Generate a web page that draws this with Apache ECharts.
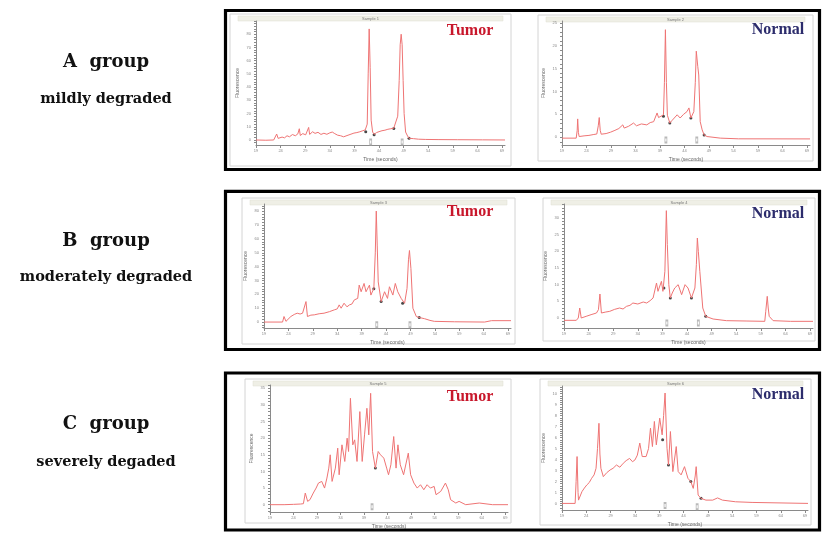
<!DOCTYPE html>
<html>
<head>
<meta charset="utf-8">
<script src="https://cdn.jsdelivr.net/npm/echarts@6.0.0/dist/echarts.min.js"></script>
<style>
  html, body { margin: 0; padding: 0; background: #fff; }
  #chart { width: 822px; height: 533px; }
</style>
</head>
<body>
<div id="chart"></div>
<script>
// time axis (seconds) shared by all six traces
const timeTicks = [19, 24, 29, 34, 39, 44, 49, 54, 59, 64, 69]

// fluorescence tick labels per panel
const aTumorYTicks = [0, 10, 20, 30, 40, 50, 60, 70, 80]
const aNormalYTicks = [0, 5, 10, 15, 20, 25]
const bTumorYTicks = [0, 10, 20, 30, 40, 50, 60, 70, 80]
const bNormalYTicks = [0, 5, 10, 15, 20, 25, 30]
const cTumorYTicks = [0, 5, 10, 15, 20, 25, 30, 35]
const cNormalYTicks = [0, 1, 2, 3, 4, 5, 6, 7, 8, 9, 10]

// traces [time, fluorescence]
const aTumor = [
    [19, 0], [21, -0.2], [22.6, 0], [23.0, 0.3], [23.2, 4.5], [23.5, 1.2], [23.9, 0.8], [24.3, 2.2], [24.8, 1.6],
    [25.3, 3.2], [25.8, 2.4], [26.4, 4.1], [27.0, 3.2], [27.5, 4.6], [27.8, 8.5], [28.0, 3.4], [28.5, 4.8], [29.1, 3.9],
    [29.5, 5], [29.7, 9.5], [29.9, 4.2], [30.5, 6.2], [31.0, 5], [31.6, 5.8], [32.2, 4.2], [32.8, 5.1], [33.4, 4.3],
    [34.0, 5.4], [34.5, 6], [35.0, 4.8], [35.6, 3.6], [36.2, 3.2], [36.8, 2.4], [37.2, 2], [37.7, 3.6], [38.3, 4.4],
    [38.9, 5.2], [39.5, 5.6], [40.1, 6.2], [40.7, 7], [41.2, 7.6], [41.6, 12], [41.8, 50], [42.0, 84], [42.2, 55],
    [42.4, 15], [42.7, 6], [43.0, 4.3], [43.5, 5.6], [44.0, 6.3], [44.6, 7], [45.2, 7.4], [45.8, 8.1], [46.4, 8.5],
    [47.0, 9], [47.4, 10.5], [47.8, 18], [48.1, 45], [48.3, 72], [48.5, 80], [48.7, 72], [48.9, 45], [49.1, 20],
    [49.4, 6], [49.8, 3], [50.1, 1.3], [51, 1], [52, 0.6], [53.5, 0.4], [56, 0.3], [60, 0.2], [65, 0.1], [69.6, 0]
]
const aNormal = [
    [19, -0.2], [21.9, -0.2], [22.1, 1.5], [22.2, 4.0], [22.35, 1], [22.5, 0.15], [23.5, 0.3], [24.5, 0.4], [25.5, 0.6],
    [26.1, 0.7], [26.4, 2.5], [26.6, 4.3], [26.8, 1.5], [27.0, 0.66], [28, 0.8], [28.9, 1.1], [29.8, 1.5], [30.6, 1.9],
    [31.4, 2.7], [31.7, 2.0], [32.6, 2.4], [33.6, 3.1], [34.2, 2.5], [35.2, 2.9], [36.3, 2.7], [37.0, 3.2], [37.7, 3.4],
    [38.4, 5.3], [38.7, 4.3], [39.1, 4.2], [39.7, 4.9], [39.9, 12], [40.1, 23.5], [40.3, 12], [40.5, 4.8], [41.0, 3.1],
    [41.4, 3.6], [41.8, 3.8], [42.5, 4.9], [43.1, 4.2], [43.8, 5.0], [44.5, 5.6], [44.9, 6.4], [45.3, 4.2], [45.9, 5.6],
    [46.2, 12], [46.4, 18.8], [46.7, 15.5], [46.9, 13.6], [47.2, 3.4], [47.6, 1.6], [48.0, 0.5], [48.6, 0.15],
    [51.3, -0.2], [55, -0.35], [69.6, -0.37]
]
const bTumor = [
    [19, 0], [22.8, 0], [23.1, 4], [23.5, 0.5], [24.5, 4], [25.2, 5.5], [25.8, 6.4], [26.4, 5.8], [26.9, 6.4],
    [27.2, 7.6], [27.6, 14.8], [27.9, 4], [28.6, 5], [29.3, 5.2], [30.3, 6], [31.3, 6.4], [32.4, 7.5], [33.4, 8.8],
    [34.0, 9.5], [34.4, 12.4], [34.8, 10], [35.4, 13.6], [36.0, 11], [36.5, 12.4], [37.0, 13], [37.5, 16], [38.2, 17.1],
    [38.5, 26.7], [38.9, 21.9], [39.5, 27.9], [39.9, 21.9], [40.6, 26.7], [40.9, 19.5], [41.5, 24.3], [41.8, 50],
    [42.0, 80.2], [42.2, 55], [42.4, 29], [43.0, 14.8], [43.7, 21.9], [44.3, 17.1], [44.7, 25.5], [45.4, 19.5],
    [45.9, 27.9], [46.4, 21.9], [47.1, 17.1], [47.8, 13.6], [48.3, 24.3], [48.6, 45], [48.8, 51.7], [49.1, 38.6],
    [49.5, 10], [50.2, 4], [50.8, 3.3], [51.9, 2.4], [53.0, 1.2], [53.9, 0.5], [58, 0.2], [64.2, 0], [65.6, 1], [69.6, 1]
]
const bNormal = [
    [19, -0.7], [21.5, -0.7], [21.9, 0], [22.2, 3], [22.5, 0], [23.5, 0.5], [24.5, 1], [25.6, 1.5], [26.0, 2.5],
    [26.3, 7.2], [26.6, 1.5], [27.5, 1.8], [28.3, 2], [29.3, 2.6], [30.3, 3], [31.0, 2.7], [31.7, 3.5], [32.4, 3.8],
    [33.0, 4.5], [33.4, 5], [34.0, 4.2], [34.4, 4], [35.1, 4.8], [35.8, 4.5], [36.5, 5.2], [37.1, 6], [37.8, 10.5],
    [38.1, 8], [38.8, 11], [39.1, 8], [39.5, 14], [39.8, 32.2], [40.0, 22], [40.3, 10], [40.6, 6], [41.0, 7.5],
    [41.5, 9], [42.2, 10], [42.9, 7], [43.6, 10], [44.2, 9], [44.9, 6], [45.6, 9], [45.9, 16], [46.1, 24], [46.3, 20],
    [46.6, 14], [47.2, 3], [47.8, 0.5], [49.3, -0.3], [52.0, -0.8], [56, -0.9], [59.8, -1], [60.0, 2], [60.3, 6.5],
    [60.5, 3], [60.7, 0.5], [61.5, -0.8], [65, -1], [69.6, -1]
]
const cTumor = [
    [19, 0], [22, 0], [24, 0.1], [25.5, 0.2], [26.1, 0.3], [26.5, 3.5], [27.0, 1], [27.5, 1.5], [28.2, 3.5], [28.8, 5],
    [29.3, 6.5], [30.0, 7], [30.6, 5], [31.1, 8], [31.5, 11], [31.8, 15], [32.2, 7], [32.9, 11], [33.4, 17], [33.7, 9],
    [34.3, 18], [34.9, 13], [35.4, 20], [35.7, 16], [36.1, 32], [36.6, 18], [37.0, 19.5], [37.5, 13], [38.1, 28],
    [38.6, 13], [39.1, 21], [39.6, 29], [40.0, 21], [40.4, 33.5], [40.8, 16], [41.4, 11], [42.0, 16], [42.5, 15],
    [43.2, 14], [43.8, 11], [44.2, 9], [44.7, 12], [45.3, 20.5], [45.8, 11], [46.2, 18], [46.7, 12], [47.4, 9],
    [48.4, 15.5], [48.9, 9], [49.6, 6.5], [50.3, 5], [51.0, 6], [51.7, 4.5], [52.4, 6], [53.1, 5], [53.9, 5.5],
    [54.3, 3], [55.3, 4], [56.3, 6.5], [56.9, 4.5], [57.4, 1.5], [58.5, 0.5], [59.2, 1], [60.6, 0], [63.5, 0.5],
    [66.3, 0], [69.6, 0]
]
const cNormal = [
    [19, 0], [21.7, 0], [21.9, 2], [22.1, 4.27], [22.3, 1], [22.4, 0.3], [23.1, 1.07], [23.6, 1.4], [24.1, 1.68],
    [24.6, 1.9], [25.1, 2.29], [25.6, 2.6], [26.0, 3.2], [26.3, 5], [26.6, 7.3], [26.8, 4.5], [27.0, 3.2], [27.5, 2.44],
    [28.2, 2.8], [28.9, 3.05], [29.5, 3.2], [30.2, 3.5], [30.9, 3.3], [31.6, 3.66], [32.2, 3.9], [32.9, 4.1], [33.5, 3.8],
    [34.0, 3.96], [34.5, 4.4], [35.0, 5.5], [35.5, 4.27], [36.3, 4.27], [36.8, 5], [37.2, 6.86], [37.6, 5.18],
    [38.0, 7.47], [38.4, 5.34], [39.1, 7.77], [39.6, 6.25], [39.9, 8], [40.2, 10.06], [40.6, 5.03], [40.9, 3.5],
    [41.3, 6.55], [41.8, 2.9], [42.5, 5.18], [42.9, 2.9], [43.5, 2.6], [44.2, 3.35], [44.9, 2.29], [45.5, 1.98],
    [46.0, 1.37], [46.4, 2.5], [46.6, 3.35], [47.0, 0.76], [47.6, 0.46], [48.6, 0.3], [50.0, 0.3], [51.0, 0.5],
    [51.3, 0.61], [52.0, 0.3], [54.7, 0.15], [58.1, 0.09], [69.6, 0]
]

// black fragment markers on each trace
const aTumorMarks = [[41.3, 6.3], [43.0, 4.0], [47.0, 8.6], [50.1, 1.3]]
const aNormalMarks = [[39.7, 4.6], [41.0, 3.1], [45.3, 4.2], [48.0, 0.5]]
const bTumorMarks = [[41.5, 24], [43.0, 14.8], [47.4, 13.6], [50.8, 3.3]]
const bNormalMarks = [[39.3, 9], [40.6, 6], [44.9, 6], [47.8, 0.5]]
const cTumorMarks = [[41.4, 11]]
const cNormalMarks = [[39.7, 5.8], [40.9, 3.5], [45.5, 2], [47.6, 0.46]]

// grey peak flags under the baseline
const aTumorPeaks = [[42.3, -1.5], [48.7, -1.5]]
const aNormalPeaks = [[40.2, -0.6], [46.5, -0.6]]
const bTumorPeaks = [[42.1, -2], [48.9, -2]]
const bNormalPeaks = [[39.9, -1.5], [46.3, -1.5]]
const cTumorPeaks = [[40.7, -0.6]]
const cNormalPeaks = [[40.2, -0.2], [46.8, -0.3]]

const panels = [
    { data: aTumor, marks: aTumorMarks, peaks: aTumorPeaks, yTicks: aTumorYTicks, yMin: -3.8, yMax: 90,
      grid: { left: 256, top: 21, width: 249, height: 124 }, frame: [230, 14, 281, 152], title: 'Sample 1',
      label: 'Tumor', labelPos: [470, 31] },
    { data: aNormal, marks: aNormalMarks, peaks: aNormalPeaks, yTicks: aNormalYTicks, yMin: -1.7, yMax: 25.4,
      grid: { left: 562, top: 21, width: 248, height: 124 }, frame: [538, 15, 275, 146], title: 'Sample 2',
      label: 'Normal', labelPos: [778, 30] },
    { data: bTumor, marks: bTumorMarks, peaks: bTumorPeaks, yTicks: bTumorYTicks, yMin: -4.3, yMax: 85.3,
      grid: { left: 264, top: 204, width: 247, height: 124 }, frame: [242, 198, 273, 146], title: 'Sample 3',
      label: 'Tumor', labelPos: [470, 212] },
    { data: bNormal, marks: bNormalMarks, peaks: bNormalPeaks, yTicks: bNormalYTicks, yMin: -3, yMax: 34.2,
      grid: { left: 564, top: 204, width: 249, height: 124 }, frame: [543, 198, 272, 143], title: 'Sample 4',
      label: 'Normal', labelPos: [778, 214] },
    { data: cTumor, marks: cTumorMarks, peaks: cTumorPeaks, yTicks: cTumorYTicks, yMin: -2.2, yMax: 36,
      grid: { left: 270, top: 385, width: 238, height: 127 }, frame: [245, 379, 266, 144], title: 'Sample 5',
      label: 'Tumor', labelPos: [470, 397] },
    { data: cNormal, marks: cNormalMarks, peaks: cNormalPeaks, yTicks: cNormalYTicks, yMin: -0.6, yMax: 10.7,
      grid: { left: 562, top: 386, width: 246, height: 124 }, frame: [540, 379, 271, 146], title: 'Sample 6',
      label: 'Normal', labelPos: [778, 395] }
]

const labelColors = { Tumor: '#c8172b', Normal: '#2c2c6c' }
const axisGrey = '#8a8a8a'

function minorTicks(ticks, lo, hi) {
    const step = (ticks[1] - ticks[0]) / 5
    const out = []
    for (let v = ticks[0]; v <= hi + 1e-9; v += step) {
        out.push(+v.toFixed(3))
    }
    for (let v = ticks[0] - step; v >= lo; v -= step) {
        out.push(+v.toFixed(3))
    }
    return out
}

const grids = []
const xAxes = []
const yAxes = []
const series = []
const graphics = []

panels.forEach((p, i) => {
    grids.push(Object.assign({ containLabel: false }, p.grid))
    xAxes.push({
        type: 'value', gridIndex: i, min: 19, max: 69.6,
        name: 'Time (seconds)', nameLocation: 'middle', nameGap: 12,
        nameTextStyle: { fontSize: 5, color: '#666' },
        axisLine: { onZero: false, lineStyle: { color: axisGrey, width: 1 } },
        axisTick: { length: 3, customValues: timeTicks, lineStyle: { color: axisGrey } },
        axisLabel: { fontSize: 4, color: '#888', margin: 4, customValues: timeTicks },
        splitLine: { show: false }
    })
    yAxes.push({
        type: 'value', gridIndex: i, min: p.yMin, max: p.yMax,
        name: 'Fluorescence', nameLocation: 'middle', nameGap: 16,
        nameTextStyle: { fontSize: 5, color: '#666' },
        axisLine: { show: true, onZero: false, lineStyle: { color: axisGrey, width: 1 } },
        axisTick: { length: 2, customValues: minorTicks(p.yTicks, p.yMin, p.yMax), lineStyle: { color: axisGrey } },
        axisLabel: { fontSize: 4, color: '#888', margin: 5, customValues: p.yTicks },
        splitLine: { show: false }
    })
    series.push({
        type: 'line', xAxisIndex: i, yAxisIndex: i, data: p.data,
        showSymbol: false, silent: true, animation: false,
        lineStyle: { color: '#ef7474', width: 1 }
    })
    series.push({
        type: 'scatter', xAxisIndex: i, yAxisIndex: i, data: p.marks,
        symbolSize: 3, silent: true, animation: false,
        itemStyle: { color: '#1a1a1a' }
    })
    series.push({
        type: 'scatter', xAxisIndex: i, yAxisIndex: i, data: p.peaks,
        symbol: 'rect', symbolSize: [2, 5], silent: true, animation: false,
        itemStyle: { color: '#fff', borderColor: '#a8a8a8', borderWidth: 0.8 }
    })

    const [fx, fy, fw, fh] = p.frame
    graphics.push({
        type: 'rect', shape: { x: fx, y: fy, width: fw, height: fh }, z: -5,
        style: { fill: '#fff', stroke: '#d4d4d4', lineWidth: 1 }
    })
    graphics.push({
        type: 'rect', shape: { x: fx + 8, y: fy + 2, width: fw - 16, height: 5 }, z: -4,
        style: { fill: '#efefe6', stroke: '#dcdcd0', lineWidth: 0.5 }
    })
    graphics.push({
        type: 'text', x: fx + fw / 2, y: fy + 4.5, z: 5,
        style: { text: p.title, fontSize: 4, fill: '#777', align: 'center', verticalAlign: 'middle' }
    })
    graphics.push({
        type: 'text', x: p.labelPos[0], y: p.labelPos[1], z: 10,
        style: {
            text: p.label, fill: labelColors[p.label], align: 'center', verticalAlign: 'middle',
            font: 'bold 16px "Liberation Serif", "DejaVu Serif", serif'
        }
    })
})

// the three thick group boxes
const boxes = [[225.5, 10.5, 594, 159], [225.5, 191.3, 594, 158.2], [225.5, 373, 594, 157]]
boxes.forEach(b => {
    graphics.push({
        type: 'rect', shape: { x: b[0], y: b[1], width: b[2], height: b[3] }, z: 20,
        style: { fill: 'transparent', stroke: '#000', lineWidth: 3.2 }
    })
})

// group captions on the left
const groupTitles = ['A  group', 'B  group', 'C  group']
const groupSubtitles = ['mildly degraded', 'moderately degraded', 'severely degaded']
const captionY = [[62, 99], [241, 277], [424, 462]]
groupTitles.forEach((t, i) => {
    graphics.push({
        type: 'text', x: 106, y: captionY[i][0],
        style: { text: t, fill: '#111', align: 'center', verticalAlign: 'middle',
                 font: 'bold 18px "DejaVu Serif", serif' }
    })
    graphics.push({
        type: 'text', x: 106, y: captionY[i][1],
        style: { text: groupSubtitles[i], fill: '#111', align: 'center', verticalAlign: 'middle',
                 font: 'bold 14.5px "DejaVu Serif", serif' }
    })
})

const chart = echarts.init(document.getElementById('chart'), null, { renderer: 'canvas' })
chart.setOption({
    animation: false,
    backgroundColor: '#fff',
    grid: grids,
    xAxis: xAxes,
    yAxis: yAxes,
    series,
    graphic: graphics
})
</script>
</body>
</html>
